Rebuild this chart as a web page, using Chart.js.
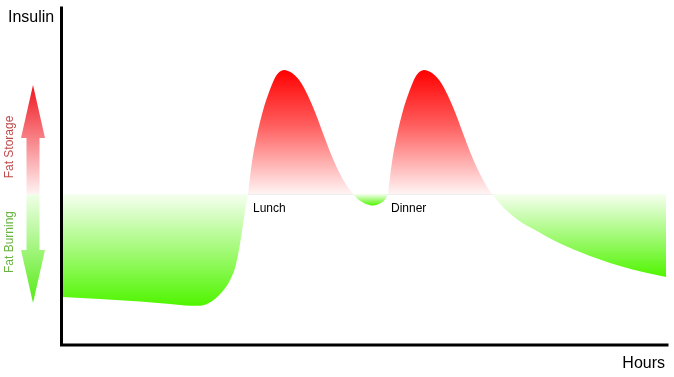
<!DOCTYPE html>
<html>
<head>
<meta charset="utf-8">
<script src="https://cdn.jsdelivr.net/npm/chart.js@4/dist/chart.umd.min.js"></script>
<style>
  html, body { margin: 0; padding: 0; background: #fff; }
  #wrap { width: 674px; height: 377px; }
</style>
</head>
<body>
<div id="wrap"><canvas id="c" width="674" height="377"></canvas></div>
<script>
// Time of day (hours from the start of the plot)
const hours = [
  0, 0.76, 1.56, 2.16, 2.56, 2.76, 2.92, 3.06, 3.2, 3.32, 3.4, 3.46, 3.52, 3.56, 3.6, 3.64, 3.68, 3.72,
  3.8, 3.88, 3.96, 4.04, 4.12, 4.22, 4.3, 4.36, 4.44, 4.52, 4.6, 4.7, 4.82, 4.94, 5.06, 5.18, 5.3, 5.42, 5.54, 5.66, 5.82,
  5.94, 6.08, 6.22, 6.36, 6.46, 6.52,
  6.6, 6.68, 6.76, 6.84, 6.92, 7.02, 7.1, 7.16, 7.24, 7.32, 7.4, 7.5, 7.62, 7.74, 7.86, 7.98, 8.1, 8.22, 8.34, 8.46, 8.6,
  8.8, 9.12, 9.5, 9.86, 10.36, 10.76, 11.16, 11.66, 12.08
];
// Insulin level relative to the storage / burning threshold (0)
const insulin = [
  -10.3, -10.5, -10.75, -11.0, -11.17, -11.18, -10.95, -10.5, -9.8, -9.0, -8.2, -7.4, -6.1, -5.0, -3.7, -2.4, -1.1, 0,
  3.2, 5.4, 7.2, 8.7, 9.9, 11.2, 11.95, 12.25, 12.4, 12.3, 12.1, 11.65, 10.8, 9.6, 8.2, 6.6, 5.0, 3.5, 2.2, 1.1, 0,
  -0.6, -1.0, -1.15, -0.95, -0.55, 0,
  3.2, 5.4, 7.2, 8.7, 9.9, 11.2, 11.95, 12.25, 12.4, 12.3, 12.1, 11.65, 10.8, 9.6, 8.2, 6.6, 5.0, 3.5, 2.2, 1.05, 0,
  -1.2, -2.6, -3.7, -4.7, -5.8, -6.55, -7.2, -7.85, -8.3
];
// Meal markers: label, hour, level at which the label sits
const mealNames = ['Lunch', 'Dinner'];
const mealHours = [3.82, 6.58];
const mealLevels = [-1.5, -1.5];

const axisTitles = { y: 'Insulin', x: 'Hours' };
const zoneLabels = ['Fat Storage', 'Fat Burning'];

// Split the curve into storage / burning regions at each threshold crossing
const regions = [];
let current = [];
hours.forEach((h, i) => {
  current.push({ x: h, y: insulin[i] });
  if (insulin[i] === 0 && current.length > 1) {
    regions.push(current);
    current = [{ x: h, y: 0 }];
  }
});
if (current.length > 1) regions.push(current);

function regionGradient(context) {
  const chart = context.chart;
  const { ctx, chartArea, scales } = chart;
  if (!chartArea || !scales.y) return 'rgba(0,0,0,0)';
  const pts = regions[context.datasetIndex];
  const vals = pts.map(p => p.y);
  const hi = Math.max(...vals), lo = Math.min(...vals);
  const base = scales.y.getPixelForValue(0);
  if (hi > 0) {
    const top = scales.y.getPixelForValue(hi);
    const g = ctx.createLinearGradient(0, top, 0, base);
    g.addColorStop(0, 'rgb(255,0,0)');
    g.addColorStop(0.45, 'rgb(255,95,95)');
    g.addColorStop(1, 'rgb(255,244,244)');
    return g;
  }
  const bottom = scales.y.getPixelForValue(lo);
  const g = ctx.createLinearGradient(0, base, 0, bottom);
  g.addColorStop(0, 'rgb(246,255,240)');
  g.addColorStop(1, 'rgb(80,245,0)');
  return g;
}

const decor = {
  id: 'decor',
  beforeDatasetsDraw(chart) {
    const { ctx, chartArea, scales } = chart;
    const base = Math.round(scales.y.getPixelForValue(0)) + 0.5;
    ctx.save();
    ctx.strokeStyle = 'rgba(0,0,0,0.07)';
    ctx.lineWidth = 1;
    ctx.beginPath();
    ctx.moveTo(chartArea.left, base);
    ctx.lineTo(scales.x.getPixelForValue(hours[hours.length - 1]), base);
    ctx.stroke();
    ctx.restore();
  },
  afterDatasetsDraw(chart) {
    const { ctx, chartArea, scales } = chart;
    const ys = scales.y, xs = scales.x;
    const base = ys.getPixelForValue(0);
    ctx.save();

    // axis lines
    ctx.strokeStyle = '#000';
    ctx.lineWidth = 3;
    ctx.lineCap = 'square';
    ctx.lineJoin = 'miter';
    ctx.beginPath();
    ctx.moveTo(chartArea.left - 0.5, chartArea.top);
    ctx.lineTo(chartArea.left - 0.5, chartArea.bottom);
    ctx.lineTo(chartArea.right, chartArea.bottom);
    ctx.stroke();

    // axis titles
    ctx.fillStyle = '#000';
    ctx.font = '16px "Liberation Sans", Arial, sans-serif';
    ctx.textBaseline = 'alphabetic';
    ctx.textAlign = 'left';
    ctx.fillText(axisTitles.y, 8, 22);
    ctx.textAlign = 'right';
    ctx.fillText(axisTitles.x, chartArea.right - 2, 368);

    // meal labels
    ctx.font = '12px "Liberation Sans", Arial, sans-serif';
    ctx.textAlign = 'left';
    ctx.textBaseline = 'middle';
    mealNames.forEach((name, i) => {
      ctx.fillText(name, xs.getPixelForValue(mealHours[i]), ys.getPixelForValue(mealLevels[i]));
    });

    // double arrow: storage up, burning down
    const cx = 33, tipTop = 85, headTop = 138, headBot = 250, tipBot = 303;
    const headHalf = 12, shaftHalf = 6.5;
    const ag = ctx.createLinearGradient(0, tipTop, 0, tipBot);
    const af = (base - tipTop) / (tipBot - tipTop);
    ag.addColorStop(0, 'rgb(240,20,30)');
    ag.addColorStop(af * 0.999, 'rgb(255,242,242)');
    ag.addColorStop(af, 'rgb(240,255,232)');
    ag.addColorStop(1, 'rgb(85,235,20)');
    ctx.fillStyle = ag;
    ctx.beginPath();
    ctx.moveTo(cx, tipTop);
    ctx.lineTo(cx + headHalf, headTop);
    ctx.lineTo(cx + shaftHalf, headTop);
    ctx.lineTo(cx + shaftHalf, headBot);
    ctx.lineTo(cx + headHalf, headBot);
    ctx.lineTo(cx, tipBot);
    ctx.lineTo(cx - headHalf, headBot);
    ctx.lineTo(cx - shaftHalf, headBot);
    ctx.lineTo(cx - shaftHalf, headTop);
    ctx.lineTo(cx - headHalf, headTop);
    ctx.closePath();
    ctx.fill();

    // zone labels, rotated
    ctx.font = '12px "Liberation Sans", Arial, sans-serif';
    ctx.textAlign = 'center';
    ctx.textBaseline = 'middle';
    ctx.save();
    ctx.translate(9.5, 147);
    ctx.rotate(-Math.PI / 2);
    ctx.fillStyle = 'rgb(190,75,75)';
    ctx.fillText(zoneLabels[0], 0, 0);
    ctx.restore();
    ctx.save();
    ctx.translate(9.5, 242);
    ctx.rotate(-Math.PI / 2);
    ctx.fillStyle = 'rgb(105,180,65)';
    ctx.fillText(zoneLabels[1], 0, 0);
    ctx.restore();

    ctx.restore();
  }
};

new Chart(document.getElementById('c'), {
  type: 'line',
  data: {
    datasets: regions.map(pts => ({
      data: pts,
      borderWidth: 0,
      borderColor: 'rgba(0,0,0,0)',
      pointRadius: 0,
      cubicInterpolationMode: 'monotone',
      fill: { value: 0 },
      backgroundColor: regionGradient
    }))
  },
  options: {
    responsive: false,
    animation: false,
    events: [],
    layout: { padding: { left: 62, right: 7, top: 8, bottom: 32 } },
    scales: {
      x: { type: 'linear', min: 0, max: 12.1, display: false },
      y: { type: 'linear', min: -15.1, max: 18.6, display: false }
    },
    plugins: {
      legend: { display: false },
      tooltip: { enabled: false }
    }
  },
  plugins: [decor]
});
</script>
</body>
</html>
